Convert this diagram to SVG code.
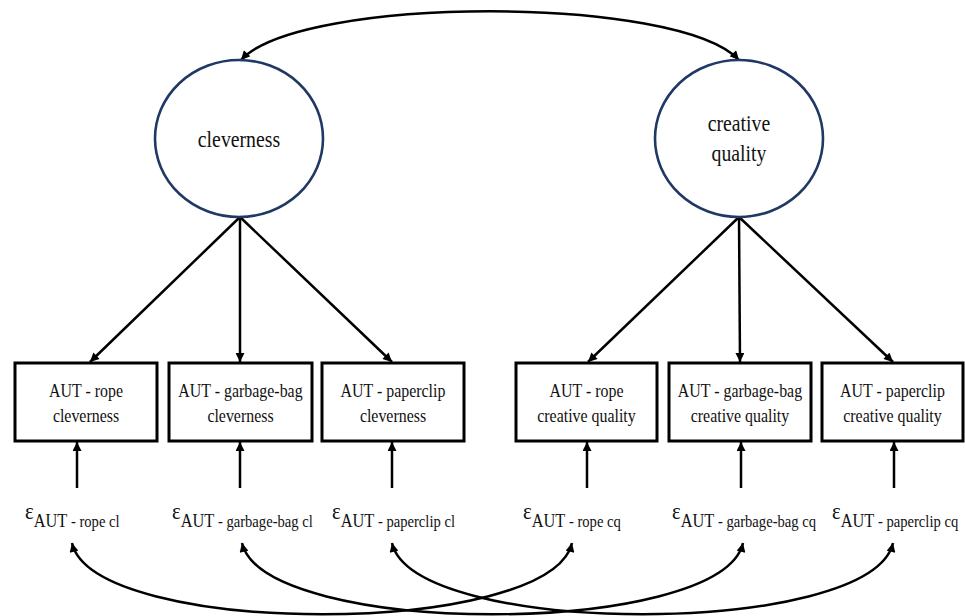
<svg xmlns="http://www.w3.org/2000/svg" width="965" height="616" viewBox="0 0 965 616">
<style>
text{font-family:'Liberation Serif','Times New Roman',serif;fill:#111}
.lat{fill:#fff;stroke:#1f3864;stroke-width:2.6}
.box{fill:#fff;stroke:#000;stroke-width:3}
.lt{font-size:23px;text-anchor:middle}
.bt{font-size:18.5px;text-anchor:middle}
.e{font-size:24px}
.a{font-size:19px}
.s{font-size:17px}
.c{fill:none;stroke:#000;stroke-width:2.5}
.one{marker-end:url(#ah)}
.two{marker-start:url(#ah);marker-end:url(#ah)}
</style>
<defs>
<marker id="ah" viewBox="0 0 10 10" refX="10" refY="5" markerWidth="10" markerHeight="9" orient="auto-start-reverse" markerUnits="userSpaceOnUse">
<path d="M0,0 L10,5 L0,10 z" fill="#000"/>
</marker>
</defs>

<g id="connectors">
<path class="c two" d="M241,60 C301,-5 679,-5 739,60"/>
<line class="c one" x1="240" y1="217" x2="90" y2="362"/>
<line class="c one" x1="240" y1="217" x2="240" y2="362"/>
<line class="c one" x1="240" y1="217" x2="392" y2="362"/>
<line class="c one" x1="739" y1="217" x2="588" y2="362"/>
<line class="c one" x1="739" y1="217" x2="740" y2="362"/>
<line class="c one" x1="739" y1="217" x2="893" y2="362"/>
<line class="c one" x1="77" y1="488" x2="77" y2="442"/>
<line class="c one" x1="240" y1="488" x2="240" y2="442"/>
<line class="c one" x1="392" y1="488" x2="392" y2="442"/>
<line class="c one" x1="587" y1="488" x2="587" y2="442"/>
<line class="c one" x1="741" y1="488" x2="741" y2="442"/>
<line class="c one" x1="894" y1="488" x2="894" y2="442"/>
<path class="c two" d="M72,543 C94,638 550,638 572,543"/>
<path class="c two" d="M242,543 C264,638 721,638 743,543"/>
<path class="c two" d="M392,543 C414,638 871,638 893,543"/>
</g>

<g id="cleverness">
<ellipse class="lat" cx="239" cy="138.5" rx="84" ry="78.5"/>
<text class="lt" transform="translate(239,147) scale(0.86,1)">cleverness</text>
</g>
<g id="creative_quality">
<ellipse class="lat" cx="739" cy="138.5" rx="84" ry="78.5"/>
<text class="lt" transform="translate(739,131) scale(0.86,1)">creative</text>
<text class="lt" transform="translate(739,161) scale(0.86,1)">quality</text>
</g>

<g id="rope_cl">
<rect class="box" x="15" y="363" width="142" height="78"/>
<text class="bt" transform="translate(86,397) scale(0.86,1)">AUT - rope</text>
<text class="bt" transform="translate(86,422) scale(0.86,1)">cleverness</text>
</g>
<g id="garbage_cl">
<rect class="box" x="169" y="363" width="143" height="78"/>
<text class="bt" transform="translate(240.5,397) scale(0.86,1)">AUT - garbage-bag</text>
<text class="bt" transform="translate(240.5,422) scale(0.86,1)">cleverness</text>
</g>
<g id="paperclip_cl">
<rect class="box" x="322" y="363" width="142" height="78"/>
<text class="bt" transform="translate(393,397) scale(0.86,1)">AUT - paperclip</text>
<text class="bt" transform="translate(393,422) scale(0.86,1)">cleverness</text>
</g>
<g id="rope_cq">
<rect class="box" x="516" y="363" width="141" height="78"/>
<text class="bt" transform="translate(586.5,397) scale(0.86,1)">AUT - rope</text>
<text class="bt" transform="translate(586.5,422) scale(0.86,1)">creative quality</text>
</g>
<g id="garbage_cq">
<rect class="box" x="669" y="363" width="142" height="78"/>
<text class="bt" transform="translate(740,397) scale(0.86,1)">AUT - garbage-bag</text>
<text class="bt" transform="translate(740,422) scale(0.86,1)">creative quality</text>
</g>
<g id="paperclip_cq">
<rect class="box" x="822" y="363" width="141" height="78"/>
<text class="bt" transform="translate(892.5,397) scale(0.86,1)">AUT - paperclip</text>
<text class="bt" transform="translate(892.5,422) scale(0.86,1)">creative quality</text>
</g>

<g id="e_rope_cl">
<text transform="translate(25,519) scale(0.86,1)"><tspan class="e">ε</tspan><tspan class="a" dy="8">AUT</tspan><tspan class="s"> - rope cl</tspan></text>
</g>
<g id="e_garbage_cl">
<text transform="translate(172,519) scale(0.86,1)"><tspan class="e">ε</tspan><tspan class="a" dy="8">AUT</tspan><tspan class="s"> - garbage-bag cl</tspan></text>
</g>
<g id="e_paperclip_cl">
<text transform="translate(332,519) scale(0.86,1)"><tspan class="e">ε</tspan><tspan class="a" dy="8">AUT</tspan><tspan class="s"> - paperclip cl</tspan></text>
</g>
<g id="e_rope_cq">
<text transform="translate(523,519) scale(0.86,1)"><tspan class="e">ε</tspan><tspan class="a" dy="8">AUT</tspan><tspan class="s"> - rope cq</tspan></text>
</g>
<g id="e_garbage_cq">
<text transform="translate(672,519) scale(0.86,1)"><tspan class="e">ε</tspan><tspan class="a" dy="8">AUT</tspan><tspan class="s"> - garbage-bag cq</tspan></text>
</g>
<g id="e_paperclip_cq">
<text transform="translate(832,519) scale(0.86,1)"><tspan class="e">ε</tspan><tspan class="a" dy="8">AUT</tspan><tspan class="s"> - paperclip cq</tspan></text>
</g>
</svg>
